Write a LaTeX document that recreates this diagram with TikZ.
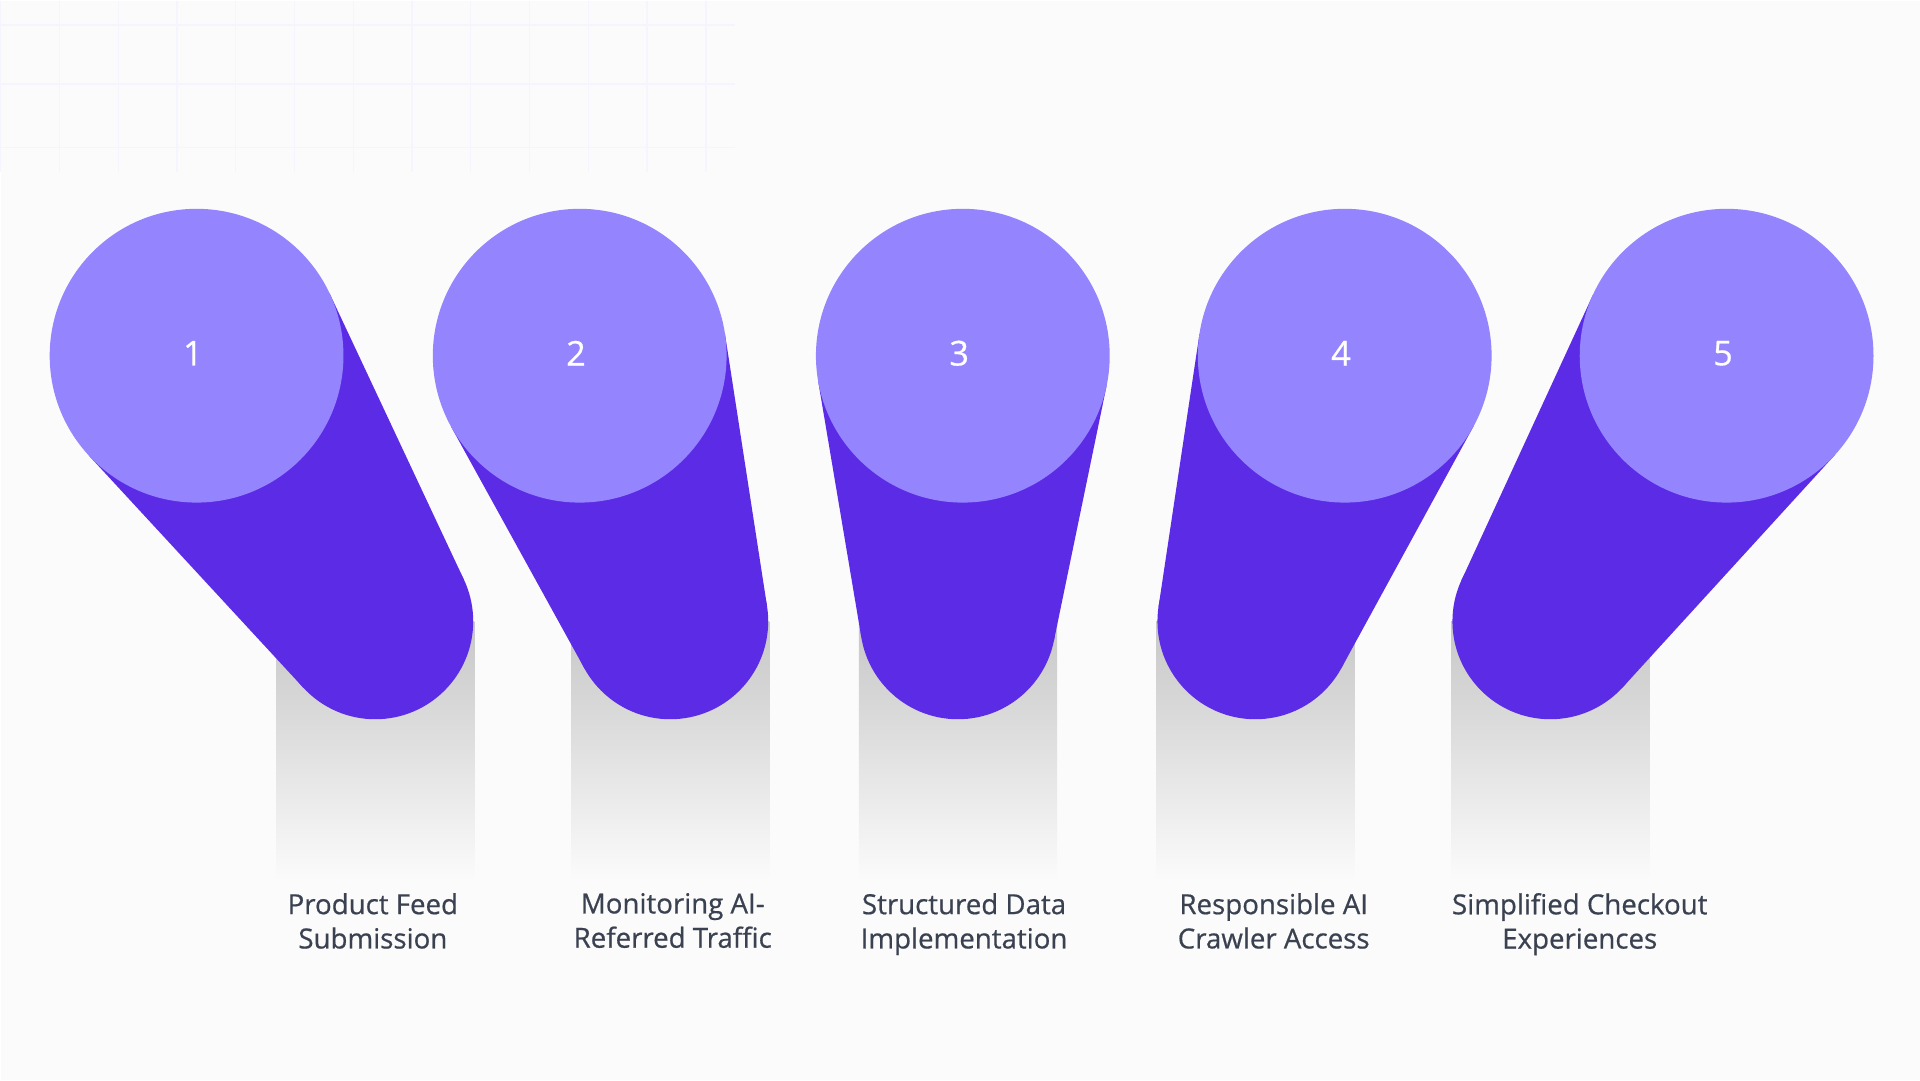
\documentclass[tikz,border=0pt]{standalone}
\usepackage{fontspec}
\setmainfont{Open Sans}[FakeBold=0.6,BoldFont=*,BoldFeatures={FakeBold=0.6}]
\definecolor{dark}{HTML}{5B2BE6}
\definecolor{light}{HTML}{9484FE}
\definecolor{txt}{HTML}{3A4150}
\begin{document}
\begin{tikzpicture}[x=0.5pt,y=-0.5pt,
  lab/.style={text=txt,font=\bfseries\fontsize{11.3}{14}\selectfont,align=center,anchor=north},
  num/.style={text=white,font=\bfseries\fontsize{14}{16}\selectfont}]
\fill[white!97!gray] (0,0) rectangle (1568,882);
\foreach \g in {0,48,...,600}{\draw[blue!4,line width=0.6] (\g,0)--(\g,140);}
\foreach \g in {20,68,120}{\draw[blue!4,line width=0.6] (0,\g)--(600,\g);}
\foreach \i/\ax/\bx/\lx/\t in {1/160/306/304/{Product Feed\\Submission},2/473/547/549/{Monitoring AI-\\Referred Traffic},3/786/782/787/{Structured Data\\Implementation},4/1098/1025/1040/{Responsible AI\\Crawler Access},5/1410/1266/1290/{Simplified Checkout\\Experiences}}{
  \shade[top color=black!22,bottom color=white!97!gray] (\bx-81,507) rectangle (\bx+81,720);
  \pgfmathsetmacro\dx{\bx-\ax}
  \pgfmathsetmacro\dy{217}
  \pgfmathsetmacro\L{veclen(\dx,\dy)}
  \pgfmathsetmacro\th{atan2(\dy,\dx)}
  \pgfmathsetmacro\ph{acos(40/\L)}
  \pgfmathsetmacro\aa{\th+\ph}
  \pgfmathsetmacro\ab{\th-\ph}
  \fill[dark] ({\ax+120*cos(\aa)},{290+120*sin(\aa)}) -- ({\bx+80*cos(\aa)},{507+80*sin(\aa)}) -- ({\bx+80*cos(\ab)},{507+80*sin(\ab)}) -- ({\ax+120*cos(\ab)},{290+120*sin(\ab)}) -- cycle;
  \fill[dark] (\bx,507) circle[radius=80];
  \fill[light] (\ax,290) circle[radius=120];
  \node[num] (n\i) at (\ax-3,288) {\i};
  \node[lab] (l\i) at (\lx,722) {\t};
}
\end{tikzpicture}
\end{document}
